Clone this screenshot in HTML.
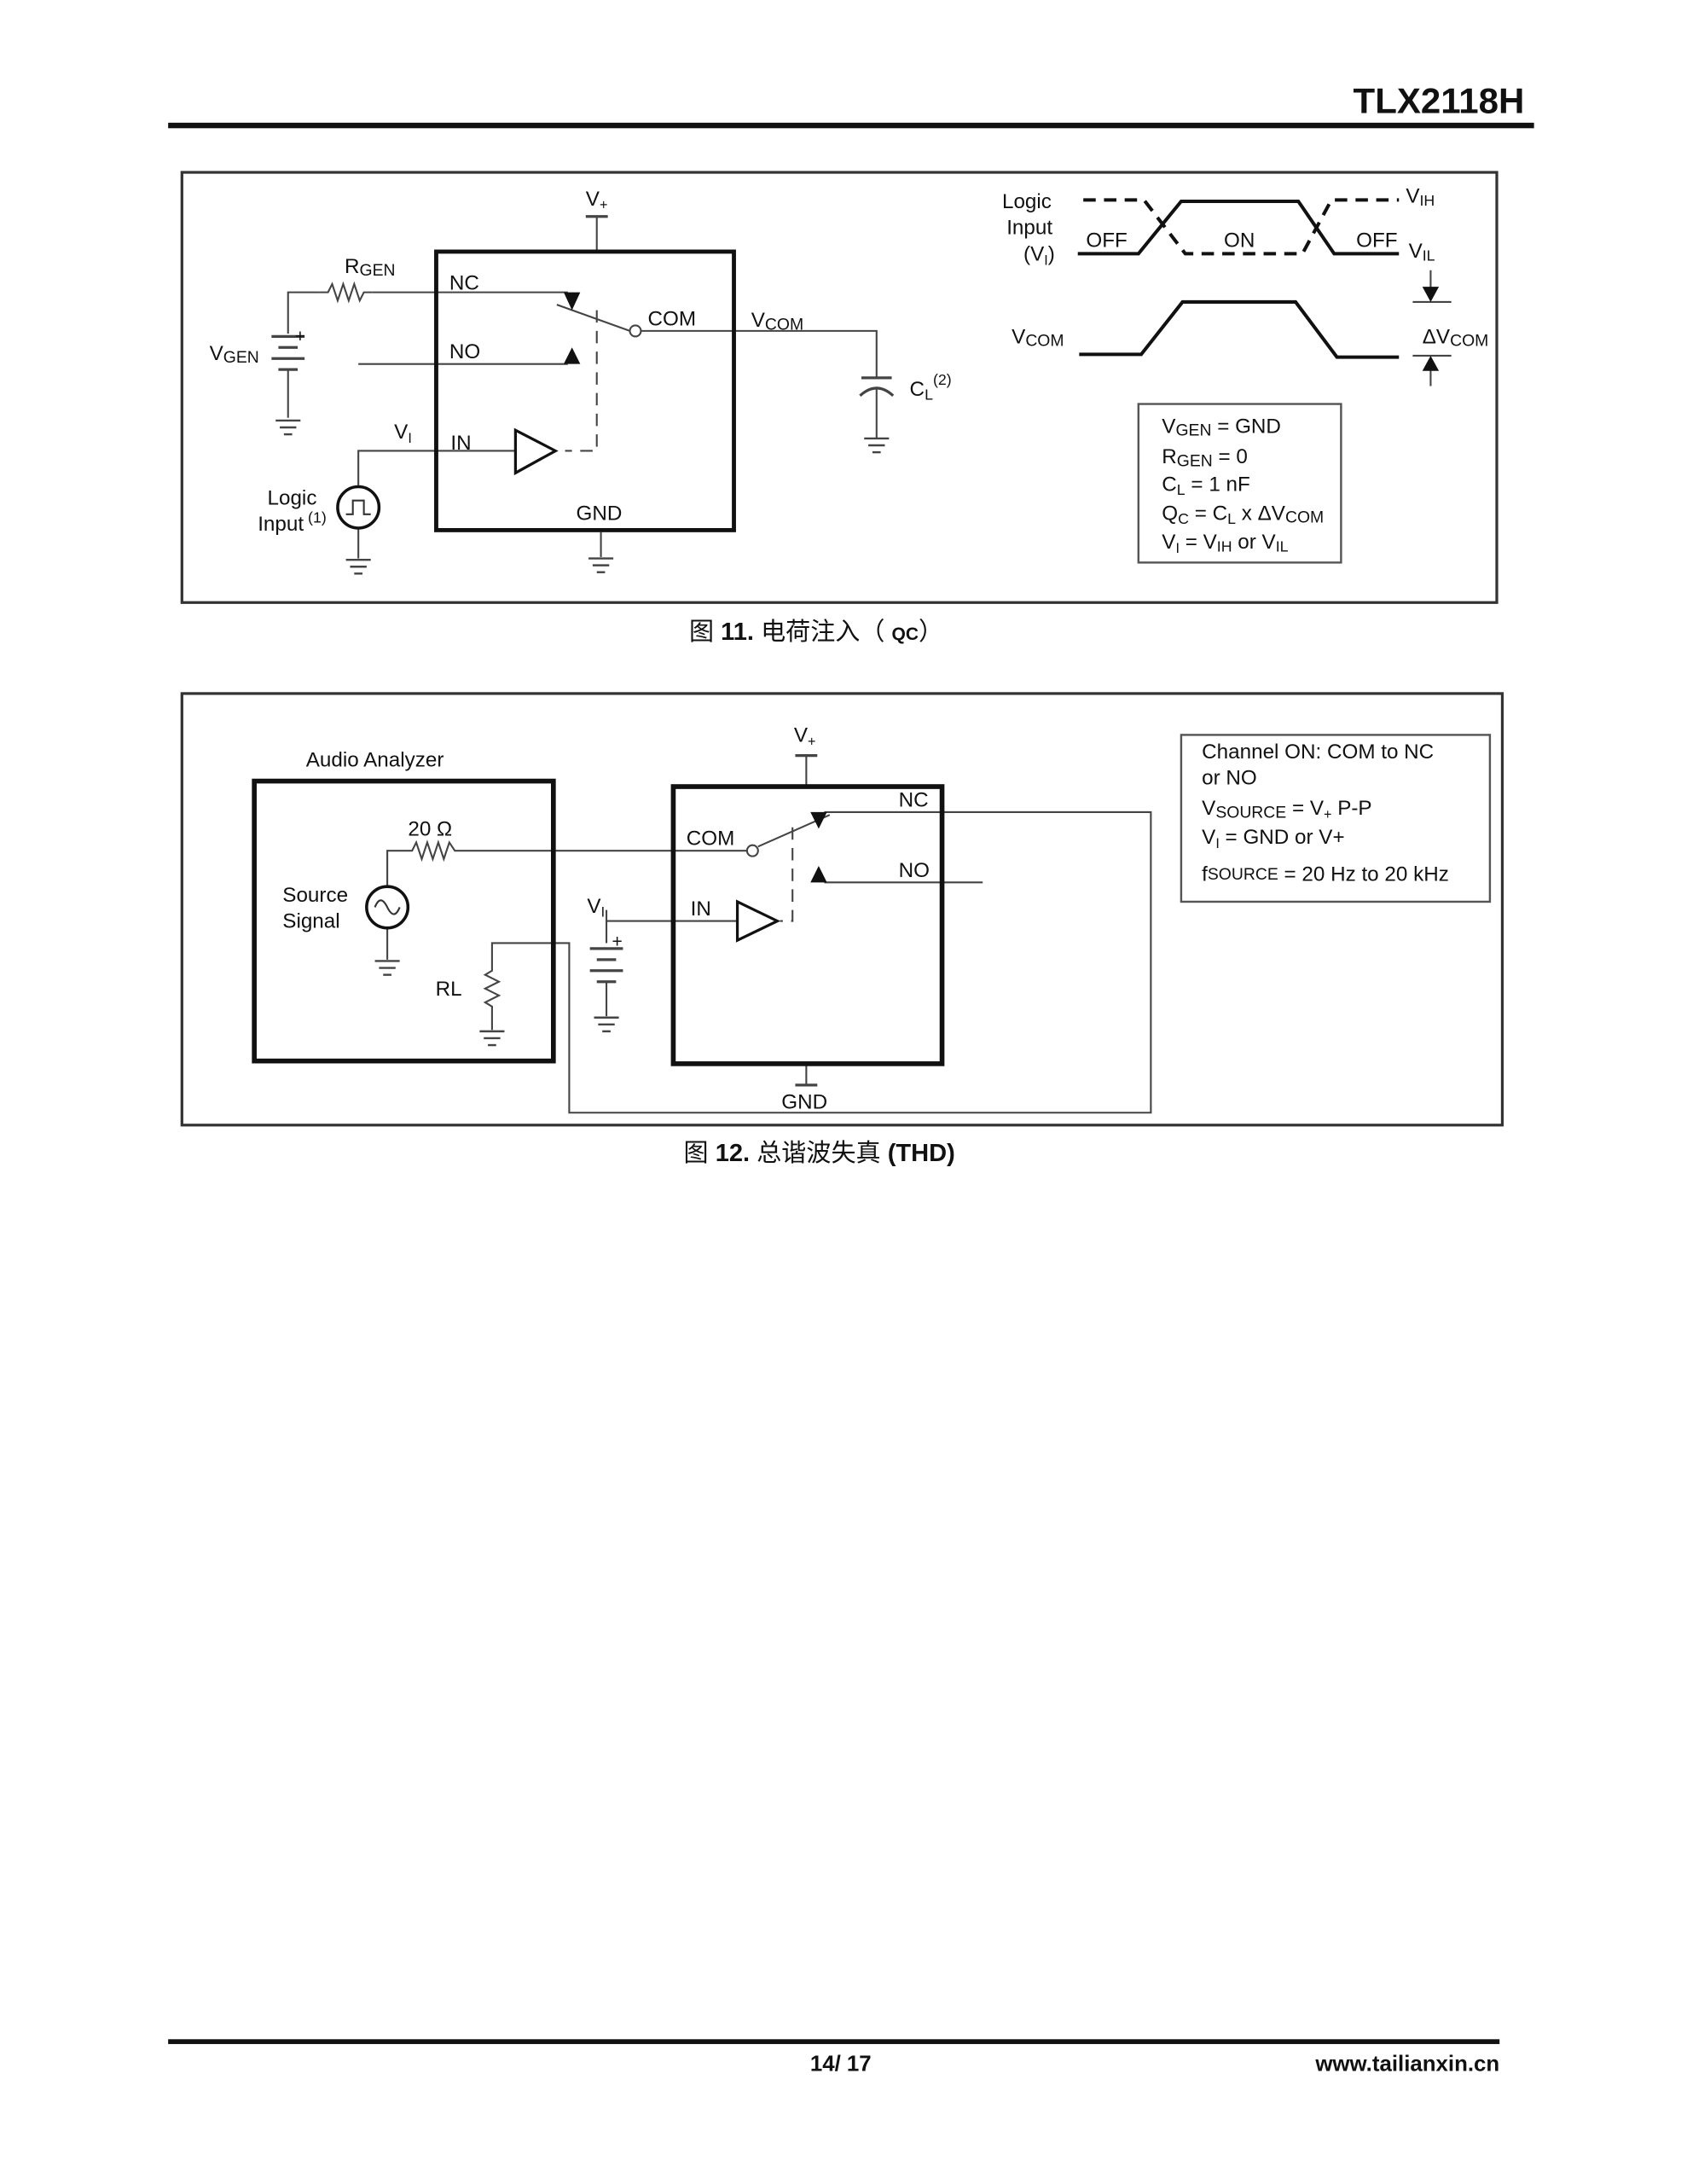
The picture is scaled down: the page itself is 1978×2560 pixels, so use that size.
<!DOCTYPE html>
<html><head><meta charset="utf-8"><style>
html,body{margin:0;padding:0;background:#fff;}
svg{display:block;}
text{font-family:"Liberation Sans","Noto Sans CJK SC",sans-serif;fill:#111;}
</style></head><body>
<svg width="1978" height="2560" viewBox="0 0 1224 1584" preserveAspectRatio="none" xmlns="http://www.w3.org/2000/svg">
<defs>
<g id="gnd" stroke="#444" stroke-width="1.5"><line x1="-9" y1="0" x2="9" y2="0"/><line x1="-6" y1="5" x2="6" y2="5"/><line x1="-3" y1="10" x2="3" y2="10"/></g>
</defs>
<!-- header -->
<text x="1106" y="82" font-size="26" font-weight="bold" text-anchor="end">TLX2118H</text>
<rect x="122" y="89" width="991" height="4" fill="#111"/>

<!-- FIG 11 -->
<rect x="132" y="125" width="954" height="312" fill="none" stroke="#333" stroke-width="2"/>
<g stroke="#444" stroke-width="1.3" fill="none">
<line x1="425" y1="157" x2="441" y2="157" stroke-width="2"/><line x1="433" y1="157" x2="433" y2="182"/>
<polyline points="209,242 209,212 232,212"/>
<polyline points="232,212 238,212 241,206 245,218 249,206 253,218 257,206 261,218 264,212 270,212"/>
<line x1="270" y1="212" x2="412" y2="212"/>
<line x1="404" y1="221" x2="457" y2="240"/>
<circle cx="461" cy="240" r="4" fill="#fff"/>
<polyline points="465,240 636,240 636,274"/>
<line x1="625" y1="274" x2="647" y2="274" stroke-width="2"/>
<path d="M624,287 Q636,276 648,287" stroke-width="2"/>
<line x1="636" y1="282" x2="636" y2="318"/>
<line x1="197" y1="244" x2="221" y2="244" stroke-width="2"/>
<line x1="202" y1="252" x2="216" y2="252" stroke-width="2"/>
<line x1="197" y1="260" x2="221" y2="260" stroke-width="2"/>
<line x1="202" y1="268" x2="216" y2="268" stroke-width="2"/>
<line x1="209" y1="268" x2="209" y2="303"/>
<line x1="260" y1="264" x2="412" y2="264"/>
<polyline points="433,225 433,327 410,327" stroke-dasharray="9,6"/>
<polyline points="260,352 260,327 374,327"/>
<line x1="260" y1="384" x2="260" y2="405"/>
<line x1="436" y1="386" x2="436" y2="404"/>
</g>
<use href="#gnd" x="209" y="305"/><use href="#gnd" x="636" y="318"/><use href="#gnd" x="260" y="406"/><use href="#gnd" x="436" y="405"/>
<polygon points="409,212 421,212 415,225" fill="#111"/>
<polygon points="409,264 421,264 415,252" fill="#111"/>
<polygon points="374,312 374,343 403,327" fill="#fff" stroke="#111" stroke-width="2"/>
<rect x="316.5" y="182.5" width="216" height="202" fill="none" stroke="#111" stroke-width="3"/>
<circle cx="260" cy="368" r="15" fill="none" stroke="#111" stroke-width="2.2"/>
<polyline points="251,373 256,373 256,363 264,363 264,373 269,373" fill="none" stroke="#333" stroke-width="1.3"/>
<g font-size="15">
<text x="425" y="149">V<tspan font-size="10" dy="3">+</tspan></text>
<text x="250" y="198">R<tspan font-size="12" dy="2">GEN</tspan></text>
<text x="326" y="210">NC</text>
<text x="470" y="236">COM</text>
<text x="545" y="237">V<tspan font-size="12" dy="2">COM</tspan></text>
<text x="214" y="248" font-size="13">+</text>
<text x="152" y="261">V<tspan font-size="12" dy="2">GEN</tspan></text>
<text x="326" y="260">NO</text>
<text x="660" y="287">C<tspan font-size="11" dy="3">L</tspan><tspan font-size="11" dy="-11">(2)</tspan></text>
<text x="286" y="318">V<tspan font-size="10" dy="3">I</tspan></text>
<text x="327" y="326">IN</text>
<text x="194" y="366">Logic</text>
<text x="187" y="385">Input<tspan font-size="11" dy="-6"> (1)</tspan></text>
<text x="418" y="377">GND</text>
</g>
<!-- timing -->
<g font-size="15">
<text x="745" y="151" text-anchor="middle">Logic</text>
<text x="747" y="170" text-anchor="middle">Input</text>
<text x="754" y="189" text-anchor="middle">(V<tspan font-size="10" dy="3">I</tspan><tspan dy="-3">)</tspan></text>
<text x="788" y="179">OFF</text><text x="888" y="179">ON</text><text x="984" y="179">OFF</text>
<text x="1020" y="147">V<tspan font-size="11" dy="2">IH</tspan></text>
<text x="1022" y="187">V<tspan font-size="11" dy="2">IL</tspan></text>
<text x="734" y="249">V<tspan font-size="12" dy="2">COM</tspan></text>
<text x="1032" y="249">ΔV<tspan font-size="12" dy="2">COM</tspan></text>
</g>
<g fill="none" stroke="#111" stroke-width="2.5">
<polyline points="786,145 830,145 860,184 945,184 966,145 1015,145" stroke-dasharray="9,6"/>
<polyline points="782,184 826,184 857,146 942,146 968,184 1015,184"/>
<polyline points="783,257 828,257 858,219 940,219 970,259 1015,259"/>
</g>
<g stroke="#444" stroke-width="1.3">
<line x1="1038" y1="196" x2="1038" y2="212"/><line x1="1025" y1="219" x2="1053" y2="219"/>
<line x1="1025" y1="258" x2="1053" y2="258"/><line x1="1038" y1="266" x2="1038" y2="280"/>
</g>
<polygon points="1032,208 1044,208 1038,219" fill="#111"/>
<polygon points="1032,269 1044,269 1038,258" fill="#111"/>
<rect x="826" y="293" width="147" height="115" fill="none" stroke="#555" stroke-width="1.5"/>
<g font-size="15">
<text x="843" y="314">V<tspan font-size="12" dy="2">GEN</tspan><tspan dy="-2"> = GND</tspan></text>
<text x="843" y="336">R<tspan font-size="12" dy="2">GEN</tspan><tspan dy="-2"> = 0</tspan></text>
<text x="843" y="356">C<tspan font-size="11" dy="3">L</tspan><tspan dy="-3"> = 1 nF</tspan></text>
<text x="843" y="377">Q<tspan font-size="11" dy="3">C</tspan><tspan dy="-3"> = C</tspan><tspan font-size="11" dy="3">L</tspan><tspan dy="-3"> x ΔV</tspan><tspan font-size="12" dy="2">COM</tspan></text>
<text x="843" y="398">V<tspan font-size="10" dy="3">I</tspan><tspan dy="-3"> = V</tspan><tspan font-size="11" dy="2">IH</tspan><tspan dy="-2"> or V</tspan><tspan font-size="11" dy="2">IL</tspan></text>
</g>
<text x="500" y="464" font-size="18">图 <tspan font-weight="bold">11.</tspan> 电荷注入（ <tspan font-size="13" font-weight="bold">QC</tspan>）</text>

<!-- FIG 12 -->
<rect x="132" y="503" width="958" height="313" fill="none" stroke="#333" stroke-width="2"/>
<g stroke="#444" stroke-width="1.3" fill="none">
<polyline points="281,643 281,617 299,617 302,611 306,623 310,611 314,623 318,611 322,623 326,611 330,617 545,617"/>
<line x1="281" y1="673" x2="281" y2="696"/>
<polyline points="357,747 357,730 352,727 362,722 352,717 362,712 352,707 357,704 357,684 413,684 413,807 835,807 835,589 598,589"/>
<line x1="550" y1="614" x2="602" y2="591"/>
<circle cx="546" cy="617" r="4" fill="#fff"/>
<line x1="598" y1="640" x2="713" y2="640"/>
<polyline points="575,600 575,668 566,668" stroke-dasharray="9,6"/>
<line x1="440" y1="660" x2="440" y2="684"/><line x1="440" y1="668" x2="535" y2="668"/>
<line x1="428" y1="688" x2="452" y2="688" stroke-width="2"/>
<line x1="433" y1="696" x2="447" y2="696" stroke-width="2"/>
<line x1="428" y1="704" x2="452" y2="704" stroke-width="2"/>
<line x1="433" y1="712" x2="447" y2="712" stroke-width="2"/>
<line x1="440" y1="712" x2="440" y2="737"/>
<line x1="577" y1="548" x2="593" y2="548" stroke-width="2"/><line x1="585" y1="548" x2="585" y2="570"/>
<line x1="585" y1="772" x2="585" y2="787"/><line x1="577" y1="787" x2="593" y2="787" stroke-width="2"/>
</g>
<use href="#gnd" x="281" y="697"/><use href="#gnd" x="357" y="748"/><use href="#gnd" x="440" y="738"/>
<polygon points="588,589 600,589 594,601" fill="#111"/>
<polygon points="588,640 600,640 594,628" fill="#111"/>
<polygon points="535,654 535,682 564,668" fill="#fff" stroke="#111" stroke-width="2"/>
<rect x="184.5" y="566.5" width="217" height="203" fill="none" stroke="#111" stroke-width="3.5"/>
<rect x="488.5" y="570.5" width="195" height="201" fill="none" stroke="#111" stroke-width="3.5"/>
<circle cx="281" cy="658" r="15" fill="#fff" stroke="#111" stroke-width="2.2"/>
<path d="M272,658 Q276,648 281,658 Q286,668 290,658" fill="none" stroke="#333" stroke-width="1.3"/>
<g font-size="15">
<text x="222" y="556">Audio Analyzer</text>
<text x="296" y="606">20 Ω</text>
<text x="205" y="654">Source</text>
<text x="205" y="673">Signal</text>
<text x="316" y="722">RL</text>
<text x="576" y="538">V<tspan font-size="10" dy="3">+</tspan></text>
<text x="652" y="585">NC</text>
<text x="652" y="636">NO</text>
<text x="498" y="613">COM</text>
<text x="426" y="662">V<tspan font-size="10" dy="3">I</tspan></text>
<text x="501" y="664">IN</text>
<text x="444" y="687" font-size="13">+</text>
<text x="567" y="804">GND</text>
</g>
<rect x="857" y="533" width="224" height="121" fill="none" stroke="#555" stroke-width="1.5"/>
<g font-size="15">
<text x="872" y="550">Channel ON: COM to NC</text>
<text x="872" y="569">or NO</text>
<text x="872" y="591">V<tspan font-size="12" dy="2">SOURCE</tspan><tspan dy="-2"> = V</tspan><tspan font-size="10" dy="3">+</tspan><tspan dy="-3"> P-P</tspan></text>
<text x="872" y="612">V<tspan font-size="10" dy="3">I</tspan><tspan dy="-3"> = GND or V+</tspan></text>
<text x="872" y="639">f<tspan font-size="12" dy="-1">SOURCE</tspan><tspan dy="1"> = 20 Hz to 20 kHz</tspan></text>
</g>
<text x="496" y="842" font-size="18">图 <tspan font-weight="bold">12.</tspan> 总谐波失真 <tspan font-weight="bold">(THD)</tspan></text>

<!-- footer -->
<rect x="122" y="1479" width="966" height="3.5" fill="#111"/>
<text x="610" y="1502" font-size="16" font-weight="bold" text-anchor="middle">14/ 17</text>
<text x="1088" y="1502" font-size="16" font-weight="bold" text-anchor="end">www.tailianxin.cn</text>
</svg>
</body></html>
